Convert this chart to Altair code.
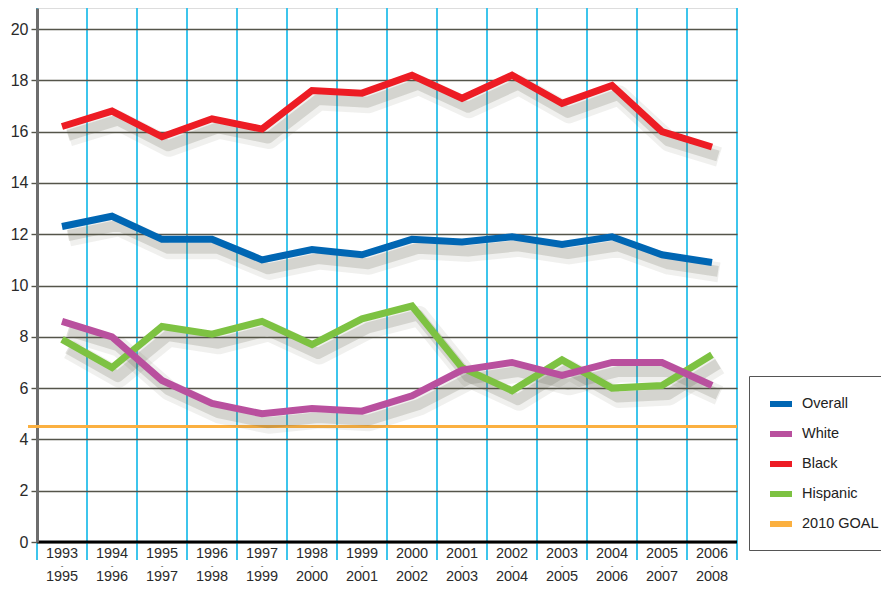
import altair as alt
import pandas as pd

periods = ["1993-1995", "1994-1996", "1995-1997", "1996-1998", "1997-1999",
           "1998-2000", "1999-2001", "2000-2002", "2001-2003", "2002-2004",
           "2003-2005", "2004-2006", "2005-2007", "2006-2008"]
overall = [12.3, 12.7, 11.8, 11.8, 11.0, 11.4, 11.2, 11.8, 11.7, 11.9, 11.6, 11.9, 11.2, 10.9]
white = [8.6, 8.0, 6.3, 5.4, 5.0, 5.2, 5.1, 5.7, 6.7, 7.0, 6.5, 7.0, 7.0, 6.1]
black = [16.2, 16.8, 15.8, 16.5, 16.1, 17.6, 17.5, 18.2, 17.3, 18.2, 17.1, 17.8, 16.0, 15.4]
hispanic = [7.9, 6.8, 8.4, 8.1, 8.6, 7.7, 8.7, 9.2, 6.8, 5.9, 7.1, 6.0, 6.1, 7.3]
goal = 4.5

groups = ["Overall", "White", "Black", "Hispanic", "2010 GOAL"]
colors = ["#0066b3", "#b9509e", "#ed1c24", "#7dc242", "#fbb040"]

rows = []
for name, vals in [("Hispanic", hispanic), ("White", white), ("Overall", overall), ("Black", black)]:
    for p, v in zip(periods, vals):
        rows.append({"period": p, "group": name, "value": v})
df = pd.DataFrame(rows)
goal_df = pd.DataFrame({"group": ["2010 GOAL"], "value": [goal]})
period_df = pd.DataFrame({"period": periods, "dash": ["-"] * len(periods)})

FONT = "Liberation Sans, Arial, sans-serif"
W, H = 700, 534
YMAX = 20.82

xscale = alt.Scale(type="band", paddingInner=0, paddingOuter=0, domain=periods)
xenc = alt.X(
    "period:N", sort=periods, scale=xscale,
    axis=alt.Axis(
        title=None, labelAngle=0, tickBand="extent", grid=True, translate=0,
        gridColor="#3ec5ec", gridWidth=2, gridOpacity=1,
        tickColor="#3ec5ec", tickWidth=2, tickSize=18,
        domainColor="#000000", domainWidth=3,
        labelExpr="[slice(datum.label,0,4), slice(datum.label,5,9)]",
        labelLineHeight=23, labelPadding=-13, labelFontSize=14.5,
        labelFont=FONT, labelColor="#2a2a2a", labelBaseline="top",
    ),
)
yscale = alt.Scale(domain=[0, YMAX], nice=False, zero=True)
yenc = alt.Y(
    "value:Q", scale=yscale,
    axis=alt.Axis(
        title=None, values=list(range(0, 21, 2)), grid=True,
        gridColor="#55554a", gridWidth=1.4, gridOpacity=1,
        tickColor="#55554a", tickSize=6, tickWidth=1.4,
        domainColor="#6d6d6d", domainWidth=3,
        labelFontSize=16, labelFont=FONT, labelColor="#2a2a2a", labelPadding=3,
    ),
)

color = alt.Color(
    "group:N",
    scale=alt.Scale(domain=groups, range=colors),
    legend=alt.Legend(
        title=None, orient="none", legendX=712, legendY=368,
        symbolType="stroke", symbolSize=484, symbolStrokeWidth=6, symbolOffset=4,
        labelFontSize=14.5, labelFont=FONT, labelColor="#222222", labelOffset=7,
        rowPadding=4, padding=14, strokeColor="#555555", fillColor="#ffffff",
        cornerRadius=0,
    ),
)

base = alt.Chart(df)

goal_rule = alt.Chart(goal_df).mark_rule(strokeCap="butt").encode(
    y=alt.Y("value:Q", scale=yscale),
    x=alt.value(-9), x2=alt.value(W),
    color=color,
    strokeWidth=alt.value(3),
)

dashes = alt.Chart(period_df).mark_text(
    fontSize=8, font=FONT, color="#2a2a2a", baseline="middle"
).encode(
    x=alt.X("period:N", sort=periods, scale=xscale, bandPosition=0.5),
    y=alt.value(H + 24),
    text="dash:N",
)

shadow1 = base.mark_line(color="#5a5a40", opacity=0.09, strokeWidth=20,
                         xOffset=7, yOffset=10, strokeJoin="round").encode(
    x=xenc, y=yenc, detail="group:N")
shadow2 = base.mark_line(color="#5a5a40", opacity=0.18, strokeWidth=11,
                         xOffset=6, yOffset=9, strokeJoin="round").encode(
    x=xenc, y=yenc, detail="group:N")
lines = base.mark_line(strokeWidth=7, strokeJoin="miter", strokeCap="butt").encode(
    x=xenc, y=yenc, color=color)

chart = alt.layer(goal_rule, shadow1, shadow2, lines, dashes).properties(
    width=W, height=H,
    autosize=alt.AutoSizeParams(type="none"),
    padding={"left": 29, "top": 0, "right": 144, "bottom": 48},
).configure_view(
    fill="#fdfadf", stroke="#666666", strokeWidth=1.5,
).configure(background="#ffffff")

chart.save("out.html", embed_options={"renderer": "svg", "actions": False})
